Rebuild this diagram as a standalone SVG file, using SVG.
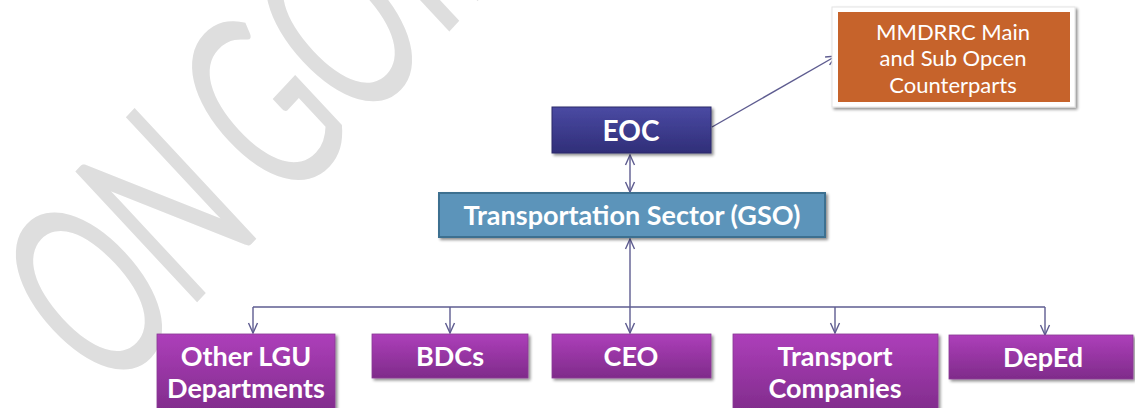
<svg xmlns="http://www.w3.org/2000/svg" width="1135" height="408" viewBox="0 0 1135 408">
<style>
.lbl{font-family:Lato,"Open Sans","Liberation Sans",sans-serif;font-weight:bold;fill:#ffffff;text-anchor:middle}
.lbl2{font-family:Lato,"Open Sans","Liberation Sans",sans-serif;font-weight:normal;fill:#ffffff;text-anchor:middle}
.wm{font-family:Lato,"Liberation Sans",sans-serif;font-size:100px;fill:#dedede;text-anchor:middle}
.conn{stroke:#5e5c90;stroke-width:1.4;fill:none}
.purple{fill:url(#gPurple);stroke:#8a3a95;stroke-width:0.8}
</style>
<defs>
<linearGradient id="gPurple" x1="0" y1="0" x2="0" y2="1">
<stop offset="0" stop-color="#ad3fba"/>
<stop offset="1" stop-color="#7f2b8a"/>
</linearGradient>
<linearGradient id="gEoc" x1="0" y1="0" x2="0" y2="1">
<stop offset="0" stop-color="#4a4aa3"/>
<stop offset="1" stop-color="#302e78"/>
</linearGradient>
<filter id="sh" x="-10%" y="-20%" width="130%" height="150%">
<feGaussianBlur in="SourceAlpha" stdDeviation="1.6"/>
<feOffset dx="1.5" dy="2" result="b"/>
<feComponentTransfer><feFuncA type="linear" slope="0.45"/></feComponentTransfer>
<feMerge><feMergeNode/><feMergeNode in="SourceGraphic"/></feMerge>
</filter>
<marker id="arr" viewBox="0 0 12 12" refX="11" refY="6" markerWidth="12" markerHeight="12" markerUnits="userSpaceOnUse" orient="auto-start-reverse">
<path d="M1,1.5 L11,6 L1,10.5" fill="none" stroke="#5e5c90" stroke-width="1.4"/>
</marker>
</defs>
<rect width="1135" height="408" fill="#ffffff"/>
<g id="watermark" transform="matrix(1.02,-1.095,1.7,1.825,87,289)">
<text class="wm" x="0" y="37">O</text>
<text class="wm" x="77" y="36">N</text>
<text class="wm" x="169" y="37">G</text>
<text class="wm" x="245" y="37">O</text>
<text class="wm" x="300" y="36">I</text>
<text class="wm" x="352" y="36">N</text>
<text class="wm" x="426" y="37">G</text>
</g>
<g id="connectors">
<line class="conn" x1="712" y1="127" x2="836" y2="56" marker-end="url(#arr)"/>
<line class="conn" x1="630" y1="155" x2="630" y2="192" marker-start="url(#arr)" marker-end="url(#arr)"/>
<line class="conn" x1="630" y1="239" x2="630" y2="333" marker-start="url(#arr)" marker-end="url(#arr)"/>
<line class="conn" x1="253" y1="307" x2="1045" y2="307"/>
<line class="conn" x1="253" y1="307" x2="253" y2="333" marker-end="url(#arr)"/>
<line class="conn" x1="450" y1="307" x2="450" y2="333" marker-end="url(#arr)"/>
<line class="conn" x1="835" y1="307" x2="835" y2="333" marker-end="url(#arr)"/>
<line class="conn" x1="1045" y1="307" x2="1045" y2="335" marker-end="url(#arr)"/>
</g>
<g id="mmdrrc">
<rect x="832" y="7" width="243" height="100" fill="#ffffff" stroke="#e4e4e4" stroke-width="1" filter="url(#sh)"/>
<rect x="838" y="12" width="232" height="90" fill="#c6632b"/>
<text class="lbl2" font-size="22" x="953" y="40">MMDRRC Main</text>
<text class="lbl2" font-size="22" x="953" y="66">and Sub Opcen</text>
<text class="lbl2" font-size="22" x="953" y="93">Counterparts</text>
</g>
<g id="eoc">
<rect x="552" y="107" width="159" height="46" fill="url(#gEoc)" stroke="#2c2a6a" stroke-width="1" filter="url(#sh)"/>
<text class="lbl" font-size="28" x="631" y="141">EOC</text>
</g>
<g id="transportation">
<rect x="439" y="193" width="386" height="44" fill="#5b94ba" stroke="#3e6f90" stroke-width="2" filter="url(#sh)"/>
<text class="lbl" font-size="27" x="632" y="225">Transportation Sector (GSO)</text>
</g>
<g id="otherlgu">
<rect class="purple" x="157" y="334" width="178" height="80" filter="url(#sh)"/>
<text class="lbl" font-size="27" x="246" y="366">Other LGU</text>
<text class="lbl" font-size="27" x="246" y="398">Departments</text>
</g>
<g id="bdcs">
<rect class="purple" x="372" y="334" width="156" height="44" filter="url(#sh)"/>
<text class="lbl" font-size="27" x="450" y="366">BDCs</text>
</g>
<g id="ceo">
<rect class="purple" x="552" y="334" width="159" height="44" filter="url(#sh)"/>
<text class="lbl" font-size="27" x="631" y="366">CEO</text>
</g>
<g id="transport">
<rect class="purple" x="733" y="334" width="205" height="80" filter="url(#sh)"/>
<text class="lbl" font-size="27" x="835" y="366">Transport</text>
<text class="lbl" font-size="27" x="835" y="398">Companies</text>
</g>
<g id="deped">
<rect class="purple" x="949" y="335" width="184" height="44" filter="url(#sh)"/>
<text class="lbl" font-size="27" x="1043" y="367">DepEd</text>
</g>
</svg>
